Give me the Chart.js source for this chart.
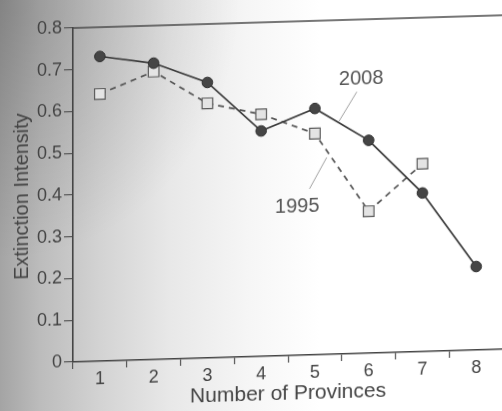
<!DOCTYPE html>
<html><head><meta charset="utf-8">
<script src="https://cdn.jsdelivr.net/npm/chart.js@4"></script>
<style>
html{margin:0;padding:0;background:#ffffff;}
body{margin:0;padding:0;width:502px;height:411px;overflow:hidden;background:#ffffff;position:relative;}
#bg{position:absolute;left:0;top:0;width:502px;height:411px;background:
 radial-gradient(ellipse 240px 260px at 0px 0px, rgba(0,0,0,0.20), rgba(0,0,0,0) 100%),
 linear-gradient(to right,#a4a4a4 0px,#bcbcbc 40px,#d3d3d3 100px,#e8e8e8 170px,#f6f6f6 250px,#ffffff 320px,#ffffff 502px);}
#wrap{position:absolute;left:0;top:0;width:512px;height:411px;transform:skewY(-1.7deg);transform-origin:73px 362px;}
canvas{display:block}
</style></head>
<body>
<div id="bg"></div>
<div id="wrap"><canvas id="c" width="512" height="411"></canvas></div>
<script>
const provinces = ['1','2','3','4','5','6','7','8'];
const values2008 = [0.73, 0.71, 0.66, 0.54, 0.59, 0.51, 0.38, 0.20];
const values1995 = [0.64, 0.69, 0.61, 0.58, 0.53, 0.34, 0.45];
const yTicks = [0, 0.1, 0.2, 0.3, 0.4, 0.5, 0.6, 0.7, 0.8];
const seriesNames = ['2008', '1995'];
// callout labels, in data coordinates (category index, value)
const callouts = [
  {text: seriesNames[0], at: [4.86, 0.658], from: [4.78, 0.627], to: [4.45, 0.558]},
  {text: seriesNames[1], at: [3.67, 0.356], from: [3.90, 0.398], to: [4.22, 0.472]}
];

const FONT = '"Liberation Sans", Arial, sans-serif';
const TXT = '#444';

const decor = {
  id: 'decor',
  afterDatasetsDraw(chart) {
    const {ctx, chartArea: a, scales: {x, y}} = chart;
    ctx.save();
    ctx.strokeStyle = '#4a4a4a';
    ctx.lineWidth = 1.6;
    ctx.beginPath();
    ctx.moveTo(a.left, a.top);
    ctx.lineTo(a.right, a.top);
    ctx.stroke();
    callouts.forEach(c => {
      ctx.strokeStyle = '#a0a0a0';
      ctx.lineWidth = 1;
      ctx.beginPath();
      ctx.moveTo(x.getPixelForValue(c.from[0]), y.getPixelForValue(c.from[1]));
      ctx.lineTo(x.getPixelForValue(c.to[0]), y.getPixelForValue(c.to[1]));
      ctx.stroke();
      ctx.fillStyle = '#555';
      ctx.font = '20px ' + FONT;
      ctx.textAlign = 'center';
      ctx.textBaseline = 'middle';
      ctx.fillText(c.text, x.getPixelForValue(c.at[0]), y.getPixelForValue(c.at[1]));
    });
    ctx.restore();
  }
};

new Chart(document.getElementById('c'), {
  type: 'line',
  data: {
    labels: provinces,
    datasets: [
      {
        label: seriesNames[0],
        data: values2008,
        borderColor: '#3a3a3a',
        borderWidth: 1.7,
        pointStyle: 'circle',
        pointRadius: 5.3,
        pointBackgroundColor: '#454545',
        pointBorderColor: '#2e2e2e',
        pointBorderWidth: 1,
        tension: 0
      },
      {
        label: seriesNames[1],
        data: values1995,
        borderColor: '#555',
        borderWidth: 1.7,
        borderDash: [6, 5],
        pointStyle: 'rect',
        pointRadius: 7.5,
        pointBackgroundColor: '#e4e4e4',
        pointBorderColor: '#5a5a5a',
        pointBorderWidth: 1.2,
        tension: 0
      }
    ]
  },
  options: {
    responsive: false,
    devicePixelRatio: 1,
    animation: false,
    layout: {padding: {left: 0, right: 3, top: 28, bottom: 0}},
    plugins: {legend: {display: false}, tooltip: {enabled: false}},
    scales: {
      x: {
        type: 'category',
        offset: true,
        afterFit(s) { s.height = 49; s.paddingLeft = 0; s.paddingRight = 0; },
        grid: {offset: true, drawOnChartArea: false, drawTicks: true, tickLength: 7, color: '#555', lineWidth: 1.2},
        border: {color: '#444', width: 1.6},
        ticks: {color: TXT, font: {family: FONT, size: 18}, padding: 0, maxRotation: 0, autoSkip: false},
        title: {display: true, text: 'Number of Provinces', color: TXT, font: {family: FONT, size: 21, lineHeight: 1}, padding: {top: 0, bottom: 0}}
      },
      y: {
        type: 'linear',
        min: yTicks[0],
        max: yTicks[yTicks.length - 1],
        afterFit(s) { s.width = 73; },
        afterBuildTicks(s) { s.ticks = yTicks.map(v => ({value: v})); },
        grid: {drawOnChartArea: false, drawTicks: true, tickLength: 9, color: '#555', lineWidth: 1.2},
        border: {color: '#444', width: 1.6},
        ticks: {color: TXT, font: {family: FONT, size: 18}, padding: 2,
          callback: v => v === 0 ? '0' : v.toFixed(1)},
        title: {display: true, text: 'Extinction Intensity', color: TXT, font: {family: FONT, size: 20, lineHeight: 1.2}, padding: {top: 10, bottom: 0}}
      }
    }
  },
  plugins: [decor]
});
</script>
</body></html>
